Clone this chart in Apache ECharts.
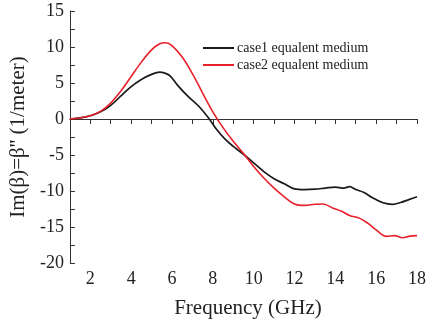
<!DOCTYPE html>
<html>
<head>
<meta charset="utf-8">
<script src="https://cdn.jsdelivr.net/npm/echarts@6/dist/echarts.min.js"></script>
<style>html,body{margin:0;padding:0;background:#fff}#c{width:429px;height:324px}</style>
</head>
<body>
<div id="c"></div>
<script>
var freq1 = [1.0,1.5,2.0,2.5,3.0,3.5,4.0,4.5,5.0,5.4,5.8,6.0,6.3,6.8,7.3,7.8,8.2,8.6,9.0,9.5,10.0,10.5,11.0,11.5,12.0,12.5,13.0,13.5,14.0,14.4,14.7,15.0,15.4,15.8,16.3,16.8,17.2,17.6,18.0];
var case1 = [0,0.15,0.45,1.0,1.9,3.2,4.5,5.5,6.2,6.5,6.2,5.7,4.6,3.1,1.8,0.1,-1.5,-2.8,-3.8,-4.9,-6.1,-7.3,-8.3,-9.0,-9.7,-9.8,-9.75,-9.6,-9.45,-9.6,-9.4,-9.8,-10.2,-10.9,-11.6,-11.85,-11.6,-11.2,-10.8];
var freq2 = [1.0,1.5,2.0,2.5,3.0,3.5,4.0,4.5,5.0,5.4,5.7,6.0,6.5,7.0,7.5,8.0,8.5,9.0,9.5,10.0,10.5,11.0,11.5,12.0,12.5,13.0,13.4,13.9,14.3,14.7,15.2,15.6,16.0,16.5,16.9,17.3,17.6,18.0];
var case2 = [0,0.15,0.45,1.05,2.2,3.9,5.9,7.9,9.6,10.45,10.6,10.2,8.6,6.3,3.6,1.0,-1.2,-3.1,-4.8,-6.6,-8.2,-9.6,-10.8,-11.8,-12.0,-11.85,-11.8,-12.4,-12.8,-13.4,-13.8,-14.5,-15.4,-16.3,-16.2,-16.5,-16.3,-16.2];
var seriesNames = ['case1 equalent medium','case2 equalent medium'];
var xTicks = [2,4,6,8,10,12,14,16,18];
var yTicks = [-20,-15,-10,-5,0,5,10,15];

function pairs(xs, ys){ return xs.map(function(x,i){return [x, ys[i]];}); }
var font = 'Liberation Serif, Times New Roman, serif';
var chart = echarts.init(document.getElementById('c'), null, {renderer:'canvas'});
chart.setOption({
  animation:false,
  backgroundColor:'#fff',
  grid:{left:68, right:3, top:11, bottom:55, containLabel:false},
  legend:{
    orient:'vertical', left:198, top:36, itemGap:3,
    itemWidth:31, itemHeight:2, icon:'rect',
    textStyle:{fontFamily:font, fontSize:14, color:'#222', padding:[0,0,0,-2]},
    data:seriesNames
  },
  xAxis:{
    type:'value', min:1, max:18, interval:1,
    name:'Frequency (GHz)', nameLocation:'middle', nameGap:35,
    nameTextStyle:{fontFamily:font, fontSize:21, color:'#222', padding:[0,0,0,9]},
    axisLine:{lineStyle:{color:'#333', width:1}},
    axisTick:{inside:false, length:5, lineStyle:{color:'#333'}},
    splitLine:{show:false},
    axisLabel:{fontFamily:font, fontSize:18, color:'#222', margin:7,
      formatter:function(v){ return xTicks.indexOf(v)>=0 ? String(v) : ''; }}
  },
  yAxis:{
    type:'value', min:-20, max:15, interval:2.5,
    name:'Im(\u03b2)=\u03b2\'\' (1/meter)', nameLocation:'middle', nameGap:36,
    nameTextStyle:{fontFamily:font, fontSize:21, color:'#222'},
    axisLine:{show:true, lineStyle:{color:'#333', width:1}},
    axisTick:{inside:true, length:5, lineStyle:{color:'#333'}},
    splitLine:{show:false},
    axisLabel:{fontFamily:font, fontSize:18, color:'#222', margin:6,
      formatter:function(v){ return yTicks.indexOf(v)>=0 ? String(v) : ''; }}
  },
  series:[
    {name:seriesNames[0], type:'line', data:pairs(freq1,case1), smooth:0.35, showSymbol:false,
     lineStyle:{color:'#1a1a1a', width:1.7}, itemStyle:{color:'#1a1a1a'}},
    {name:seriesNames[1], type:'line', data:pairs(freq2,case2), smooth:0.35, showSymbol:false,
     lineStyle:{color:'#e8202a', width:1.6}, itemStyle:{color:'#e8202a'}}
  ]
});
</script>
</body>
</html>
